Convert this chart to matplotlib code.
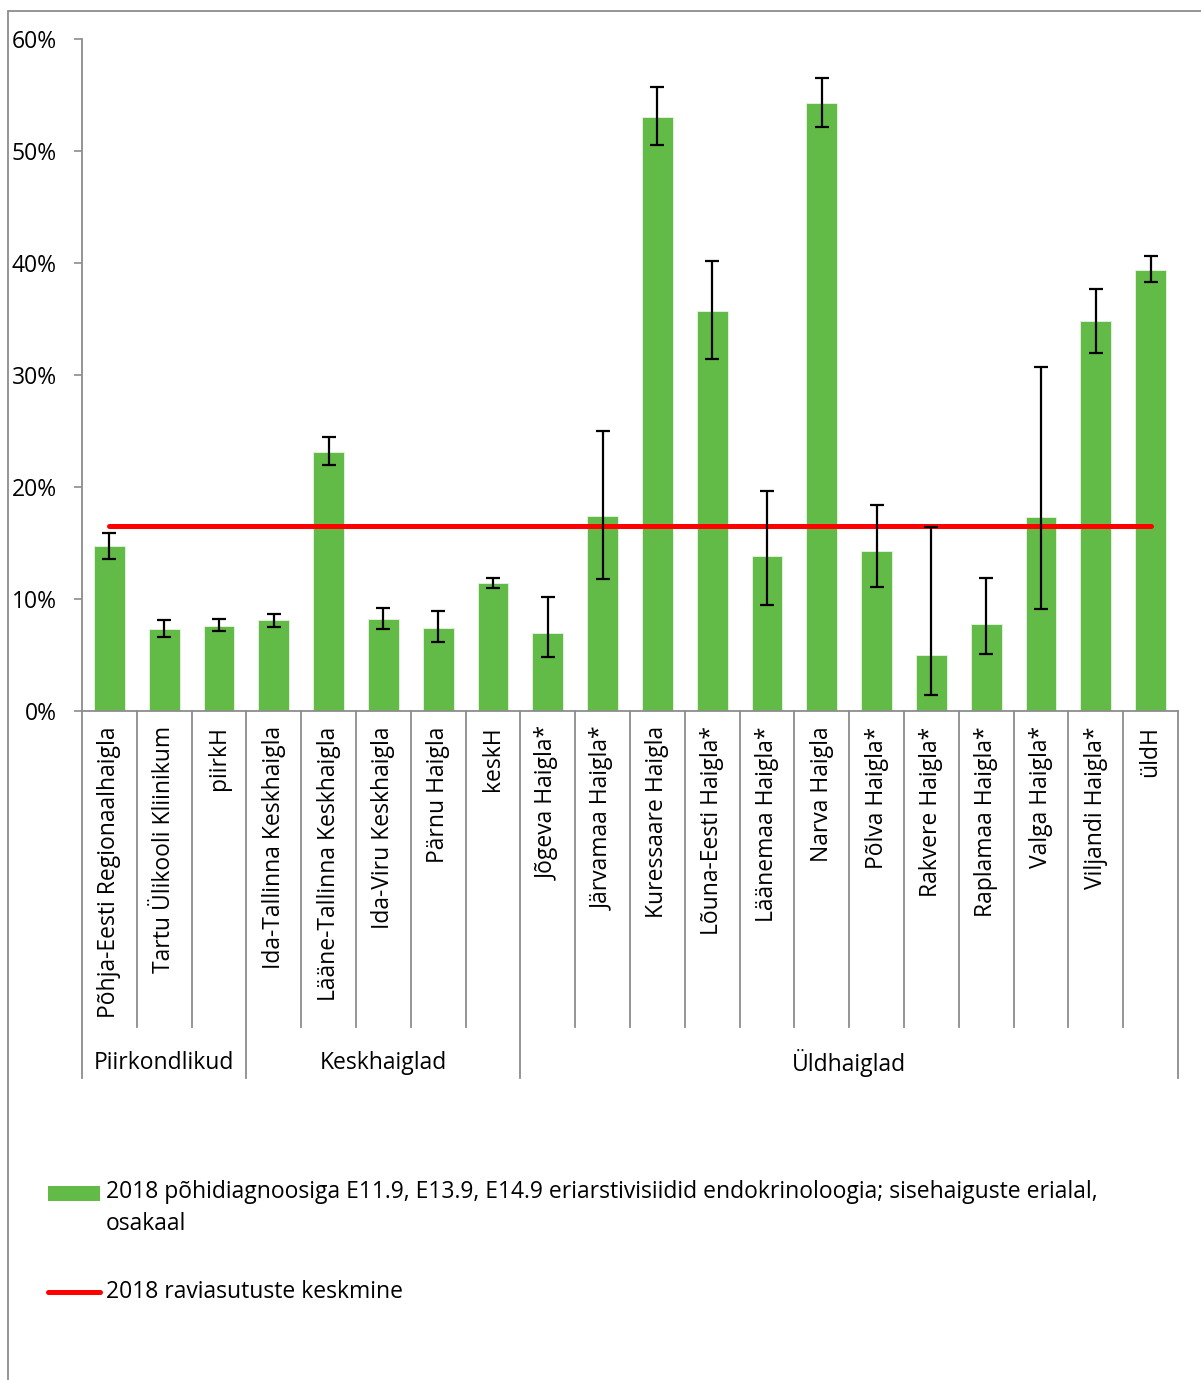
import numpy as np
import matplotlib.pyplot as plt
from matplotlib.patches import Rectangle
from matplotlib.lines import Line2D

plt.rcParams['font.family'] = ['Open Sans', 'DejaVu Sans']

# data (percent)
hospitals = ["Põhja-Eesti Regionaalhaigla", "Tartu Ülikooli Kliinikum", "piirkH",
             "Ida-Tallinna Keskhaigla", "Lääne-Tallinna Keskhaigla", "Ida-Viru Keskhaigla",
             "Pärnu Haigla", "keskH", "Jõgeva Haigla*", "Järvamaa Haigla*",
             "Kuressaare Haigla", "Lõuna-Eesti Haigla*", "Läänemaa Haigla*", "Narva Haigla",
             "Põlva Haigla*", "Rakvere Haigla*", "Raplamaa Haigla*", "Valga Haigla*",
             "Viljandi Haigla*", "üldH"]
share = [14.7, 7.3, 7.6, 8.1, 23.1, 8.2, 7.4, 11.4, 7.0, 17.4,
         53.0, 35.7, 13.8, 54.3, 14.3, 5.0, 7.8, 17.3, 34.8, 39.4]
ci_low = [13.6, 6.6, 7.1, 7.5, 22.0, 7.3, 6.2, 11.0, 4.8, 11.8,
          50.5, 31.4, 9.5, 52.1, 11.1, 1.4, 5.1, 9.1, 32.0, 38.3]
ci_high = [15.9, 8.1, 8.2, 8.7, 24.5, 9.2, 8.9, 11.9, 10.2, 25.0,
           55.7, 40.2, 19.6, 56.5, 18.4, 16.4, 11.9, 30.7, 37.7, 40.6]
mean_2018 = 16.5
groups = ["Piirkondlikud", "Keskhaiglad", "Üldhaiglad"]
group_sizes = [3, 5, 12]
yticks = [0, 10, 20, 30, 40, 50, 60]

bar_label = "2018 põhidiagnoosiga E11.9, E13.9, E14.9 eriarstivisiidid endokrinoloogia; sisehaiguste erialal,\nosakaal"
line_label = "2018 raviasutuste keskmine"

green = '#62BB46'
grey = '#8C8C8C'
fs = 16.5

fig = plt.figure(figsize=(12.01, 13.80), dpi=100)
ax = fig.add_axes([82/1201, 1 - 711/1380, (1178-82)/1201, (711-39)/1380])

x = np.arange(len(hospitals))
share_a = np.array(share)
err = [share_a - np.array(ci_low), np.array(ci_high) - share_a]
ax.bar(x, share, width=0.56, color=green, edgecolor='#E8F4E2', linewidth=0.6, zorder=2)
ax.errorbar(x, share, yerr=err, fmt='none', ecolor='black', elinewidth=1.6,
            capsize=5, capthick=1.6, zorder=4)
ax.plot([x[0], x[-1]], [mean_2018, mean_2018], color='#FF0000', linewidth=3.6,
        solid_capstyle='round', zorder=3)

ax.set_xlim(-0.5, len(hospitals) - 0.5)
ax.set_ylim(0, 60)
ax.set_yticks(yticks)
ax.set_yticklabels([f"{v}%" for v in yticks], fontsize=fs)
ax.tick_params(axis='y', length=6, color=grey, width=1.2, pad=12)
for s in ['top', 'right']:
    ax.spines[s].set_visible(False)
for s in ['left', 'bottom']:
    ax.spines[s].set_color(grey)
    ax.spines[s].set_linewidth(1.3)

ax.set_xticks(x)
ax.set_xticklabels(hospitals, rotation=90, fontsize=fs, va='top')
ax.tick_params(axis='x', length=0, pad=11)

# category separators and group separators below the axis
trans = ax.get_xaxis_transform()
bounds = np.cumsum([0] + group_sizes) - 0.5
for b in np.arange(-0.5, len(hospitals)):
    low = -0.546 if b in bounds else -0.470
    ax.plot([b, b], [0, low], color=grey, linewidth=1.3, transform=trans, clip_on=False)
for i, g in enumerate(groups):
    cx = (bounds[i] + bounds[i + 1]) / 2
    ax.text(cx, -0.524, g, transform=trans, ha='center', va='center', fontsize=fs)

# outer chart frame (left and top edges only visible)
fig.add_artist(Rectangle((8/1201, -0.1), 1.2, 1 - 11/1380 + 0.1, transform=fig.transFigure,
                         fill=False, edgecolor=grey, linewidth=1.3))

# legend, drawn by hand so the green key sits on the first text line
H = 1380.0
W = 1201.0
fig.add_artist(Rectangle((48/W, 1 - 1201/H), 52/W, 15/H, transform=fig.transFigure,
                         facecolor=green, edgecolor='none'))
fig.text(106/W, 1 - 1180/H, bar_label, fontsize=fs, va='top', ha='left', linespacing=1.45)
fig.add_artist(Line2D([48/W, 100/W], [1 - 1292/H, 1 - 1292/H], transform=fig.transFigure,
                      color='#FF0000', linewidth=3.6, solid_capstyle='round'))
fig.text(106/W, 1 - 1292/H, line_label, fontsize=fs, va='center', ha='left')

fig.savefig('out.png', dpi=100)
